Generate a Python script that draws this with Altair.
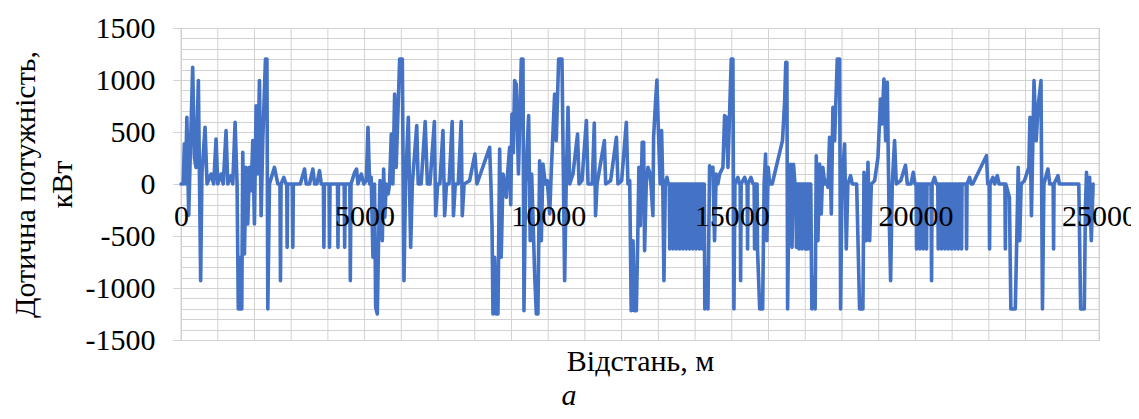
import altair as alt
import pandas as pd

# Distance (m) / tangential power (kW) points, in route order
section_a = [(0, 0), (60, 0), (91, 385), (120, 0), (160, 641), (210, -300), (250, 256), (318, 1122),
             (364, 256), (409, 160), (473, 994), (500, 160), (535, -929), (570, 96), (655, 545),
             (709, 0), (818, 96), (890, 0), (955, 433), (1000, 0), (1090, 96), (1150, 0), (1227, 513),
             (1273, 0), (1364, 80), (1410, 0), (1473, 593), (1527, 0), (1560, -1202), (1590, -705),
             (1620, -1202), (1655, -1202), (1682, 304), (1727, -673), (1773, 160), (1818, -385),
             (1864, 160), (1910, -64), (1955, 417), (2000, -385), (2045, 753), (2090, 96), (2136, 994),
             (2182, -304), (2227, 417), (2300, 1202), (2340, 1202), (2364, -1202), (2409, 0), (2545, 160),
             (2636, 0), (2695, 0), (2709, -929), (2725, 0), (2800, 64), (2860, 0), (2880, 0), (2891, -609),
             (2905, 0), (3030, 0), (3045, -609), (3060, 0), (3250, 0), (3364, 144), (3410, 0), (3500, 0),
             (3590, 144), (3640, 0), (3700, 0), (3773, 128), (3820, 0), (3878, 0), (3891, -609), (3905, 0),
             (4032, 0), (4045, -609), (4058, 0)]

section_b = [(4139, 0), (4262, 0), (4275, -609), (4288, 0), (4444, 0), (4457, -609), (4470, 0), (4598, 0),
             (4611, -929), (4630, 0), (4729, 112), (4780, 144), (4820, 0), (4910, 96), (4980, 0), (5047, 32),
             (5092, 545), (5137, 0), (5180, 64), (5228, -705), (5270, 0), (5301, -1186), (5346, -1250),
             (5380, -545), (5420, 32), (5482, -545), (5519, 144), (5550, -320), (5590, 0), (5640, -96),
             (5680, 0), (5727, 481), (5770, 0), (5818, 865), (5860, 160), (5955, 1202), (6027, 1202),
             (6072, -929), (6115, 0), (6190, 641), (6254, -609), (6300, 0), (6420, 561), (6460, 0), (6540, 0),
             (6650, 600), (6710, 0), (6780, 0), (6900, 600), (6935, -304), (6990, 0), (7050, 0), (7134, 513),
             (7180, -304), (7230, 0), (7300, 0), (7385, 600), (7420, -304), (7470, 0), (7550, 0), (7630, 600),
             (7660, -304), (7710, 0), (7860, 32), (8005, 288), (8060, 0), (8405, 353)]

section_c = [(8440, 0), (8470, -400), (8496, -1250), (8540, -705), (8580, -1250), (8632, -1250), (8678, 337),
             (8720, -705), (8770, 96), (8820, 0), (8860, -128), (8900, 128), (8950, 353), (8980, -200),
             (9013, 673), (9050, 300), (9086, 994), (9130, 960), (9190, 96), (9268, 1202), (9313, 1202),
             (9340, -1218), (9385, 0), (9467, 657), (9510, -545), (9550, 96), (9631, -865), (9676, -1250),
             (9720, -1250), (9767, 224), (9812, -545), (9858, 192), (9920, 0), (9975, 32), (10040, -288),
             (10085, 128), (10175, 865), (10220, 417), (10284, 1202), (10375, 1202), (10448, -929), (10490, 0),
             (10540, 737), (10585, 0), (10675, 96), (10800, 481), (10840, 0), (10920, 32), (11040, 609),
             (11085, 0), (11200, 0), (11255, 585), (11290, -304), (11330, 0), (11530, 417), (11565, 0),
             (11700, 32), (11858, 449), (11900, 0), (12000, 32), (12128, 593), (12172, 0), (12220, 32),
             (12260, -1218), (12310, -545), (12350, -1218), (12400, -1218), (12440, -500), (12470, 160),
             (12510, -400), (12560, 401)]

section_d = [(12600, 401), (12625, -641), (12670, 0), (12716, 160), (12780, 96), (12852, -304), (12870, 449),
             (12925, 800), (12961, 1000), (12998, 545), (13050, 0), (13088, 513), (13120, 0), (13152, -929),
             (13190, 0), (13234, 64), (13270, 0),
             (13298, 0), (13310, -625), (13322, 0), (13388, 0), (13400, -625), (13412, 0),
             (13478, 0), (13490, -625), (13502, 0), (13568, 0), (13580, -625), (13592, 0),
             (13658, 0), (13670, -625), (13682, 0), (13748, 0), (13760, -625), (13772, 0),
             (13838, 0), (13850, -625), (13862, 0), (13928, 0), (13940, -625), (13952, 0),
             (14018, 0), (14030, -625), (14042, 0), (14108, 0), (14120, -625), (14132, 0),
             (14188, 0), (14200, -625), (14212, 0), (14250, 0),
             (14265, -1202), (14300, -800), (14350, -1202), (14395, 176),
             (14440, 96), (14486, 160), (14530, -545), (14575, 96), (14620, 0), (14670, 96), (14758, 160),
             (14804, 657), (14850, 641), (14895, 160), (14985, 1202), (15030, 1202), (15058, -1202), (15085, 0),
             (15167, 64), (15210, 0), (15228, 0), (15240, -929), (15255, 0), (15350, 64), (15400, 0),
             (15418, 0), (15430, -625), (15442, 0), (15520, 64), (15580, 0), (15608, 0), (15620, -625),
             (15632, 0), (15688, 0), (15700, -625), (15760, -1202), (15840, -1202), (15880, 0), (15920, 288),
             (15955, -545), (15990, 160), (16030, 0), (16100, 0), (16380, 417), (16440, 800), (16470, 1170),
             (16500, 1170), (16520, -1202)]

section_e = [(16560, 0), (16600, 190), (16640, -609), (16680, 190), (16720, 0), (16748, 0), (16760, -609),
             (16772, 0), (16818, 0), (16830, -625), (16842, 0), (16898, 0), (16910, -625), (16922, 0),
             (16988, 0), (17000, -625), (17012, 0), (17061, 0), (17073, -625), (17085, 0), (17150, 0),
             (17180, -1202), (17220, -900), (17270, -1202), (17300, 272), (17345, -545),
             (17390, 192), (17436, -288), (17480, 160), (17530, 0), (17570, 32), (17620, -32), (17663, 449),
             (17710, -288), (17754, 737), (17800, 417), (17872, 1202), (17936, 1202), (17963, -1202),
             (18000, 0), (18072, 385), (18118, -625), (18160, 0), (18235, 80), (18280, 0), (18400, 0),
             (18480, -1202), (18570, -1202), (18600, 112), (18663, -545), (18708, 208), (18754, -545),
             (18800, 0), (18890, 32), (18980, 256), (19050, 817), (19090, 577), (19143, 1010), (19190, 417),
             (19234, 978), (19280, -224), (19325, -929), (19370, 0), (19433, 417), (19480, 0), (19600, 32),
             (19730, 180), (19780, 0), (19880, 0), (19942, 112), (19990, 0),
             (20020, 0), (20032, -625), (20044, 0), (20111, 0), (20123, -625), (20135, 0),
             (20202, 0), (20214, -625), (20226, 0), (20292, 0), (20304, -625), (20316, 0),
             (20425, 0), (20440, -929), (20455, 0), (20520, 64), (20570, 0),
             (20610, 0), (20622, -625), (20634, 0), (20701, 0), (20713, -625), (20725, 0),
             (20792, 0), (20804, -625), (20816, 0), (20883, 0), (20895, -625), (20907, 0),
             (20973, 0), (20985, -625), (20997, 0)]

section_f = [(21064, 0), (21076, -625), (21088, 0), (21155, 0), (21167, -625), (21179, 0),
             (21246, 0), (21258, -625), (21270, 0), (21382, 0), (21394, -625), (21406, 0),
             (21476, 64), (21520, 0), (21560, 0), (21935, 272), (21970, 0), (22008, 0), (22020, -625),
             (22032, 0), (22111, 64), (22160, 0), (22230, 80), (22280, 0), (22438, 0), (22450, -625),
             (22462, 0), (22560, -128), (22600, -1202), (22720, -1202), (22760, -545), (22800, 160),
             (22840, -545), (22880, 0), (22970, 32), (23090, 160), (23120, 641), (23160, -304), (23230, 994),
             (23290, 417), (23340, 737), (23420, 994), (23460, -1202), (23500, 0), (23609, 144), (23660, 0),
             (23751, 0), (23763, -625), (23775, 0), (23881, 80), (23920, 0), (24450, 0), (24500, -1202),
             (24600, -1202), (24630, -224), (24660, 112), (24700, -385), (24744, 64), (24790, -545),
             (24840, 0)]

sections = [section_a, section_b, section_c, section_d, section_e, section_f]

x_grid_values = list(range(0, 25001, 1000))
x_label_values = list(range(0, 25001, 5000))
y_grid_values = list(range(-1500, 1501, 100))

rows = []
for sec in sections:
    for dist, power in sec:
        rows.append({"dist": dist, "power": power})
df = pd.DataFrame(rows)
df["order"] = range(len(df))
grid_df = pd.DataFrame({"dist": x_grid_values})

FONT = "Liberation Serif"
FS = 30
GRID = "#d2d2d2"

x_scale = alt.Scale(domain=[0, 25000], nice=False, zero=False)
y_scale = alt.Scale(domain=[-1500, 1500], nice=False, zero=False)

x_axis = alt.Axis(
    values=x_label_values, format="d",
    ticks=False, domain=False, grid=False, zindex=1,
    offset=-156, labelFlush=False, labelOverlap=False,
    labelFont=FONT, labelFontSize=FS, labelColor="black", labelPadding=17,
    title="Відстань,  м", titleFont=FONT, titleFontSize=FS, titleFontWeight="normal",
    titleColor="black", titleY=186, titleBaseline="alphabetic",
)

y_axis = alt.Axis(
    values=y_grid_values,
    labelExpr="datum.value % 500 === 0 ? '' + datum.value : ''",
    tickSize=8, tickColor=GRID,
    tickOpacity={"condition": {"test": "datum.value % 500 === 0", "value": 1}, "value": 0},
    domain=False, grid=True, gridColor=GRID, gridWidth=1, labelOverlap=False,
    labelFont=FONT, labelFontSize=FS, labelColor="black", labelPadding=18,
    title=["Дотична потужність,", "кВт"], titleFont=FONT, titleFontSize=FS,
    titleFontWeight="normal", titleColor="black", titleLineHeight=37,
    titleAngle=270, titleX=-171, titleY=156, titleAlign="center", titleBaseline="top",
)

vgrid = alt.Chart(grid_df).mark_rule(color=GRID, strokeWidth=1).encode(
    x=alt.X("dist:Q", scale=x_scale, axis=x_axis)
)

line = alt.Chart(df).mark_line(
    color="#4472C4", strokeWidth=3.6, strokeJoin="round", strokeCap="round"
).encode(
    x=alt.X("dist:Q", scale=x_scale, axis=x_axis),
    y=alt.Y("power:Q", scale=y_scale, axis=y_axis),
    order="order:Q",
)

chart = alt.layer(vgrid, line).properties(
    width=918,
    height=312,
    autosize=alt.AutoSizeParams(type="none"),
    padding={"left": 173, "top": 20, "right": 32, "bottom": 71},
    title=alt.TitleParams(
        text="а", orient="bottom", font=FONT, fontSize=FS, fontStyle="italic",
        fontWeight="normal", color="black", dx=-71, offset=29, baseline="alphabetic",
    ),
).configure_view(stroke=GRID, strokeWidth=1)

chart.save("out.html", embed_options={"renderer": "svg", "actions": False})
